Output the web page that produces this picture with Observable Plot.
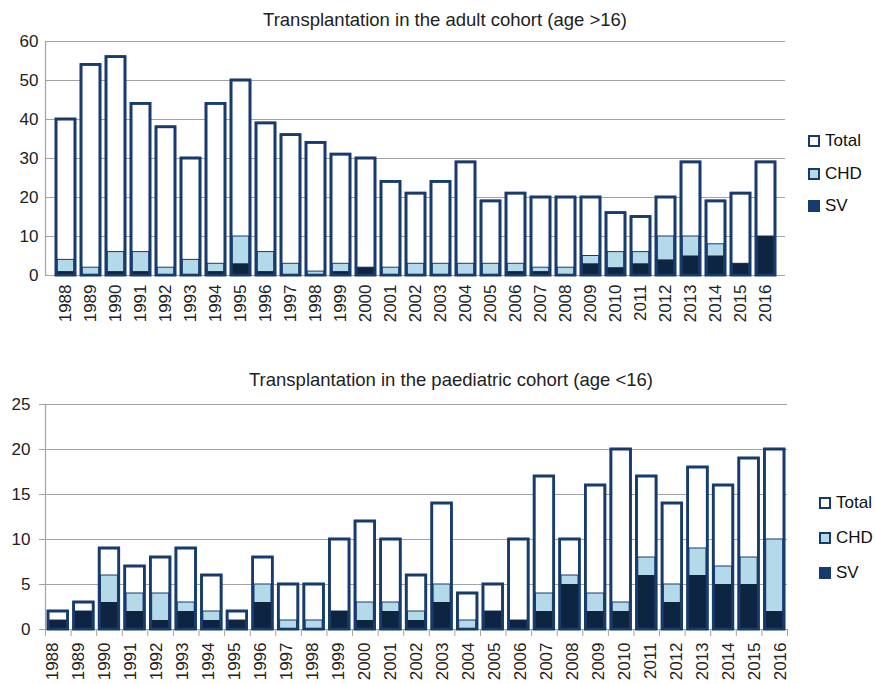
<!DOCTYPE html>
<html>
<head>
<meta charset="utf-8">
<script src="https://cdn.jsdelivr.net/npm/d3@7"></script>
<script src="https://cdn.jsdelivr.net/npm/@observablehq/plot@0.6"></script>
<style>
  body { margin: 0; background: #fff; font-family: "Liberation Sans", Arial, Helvetica, sans-serif; }
  #wrap { position: relative; width: 875px; height: 684px; overflow: hidden; background: #fff; }
  .title { position: absolute; font-size: 18.5px; color: #222; white-space: nowrap; transform: translateX(-50%); }
  .chart { position: absolute; left: 0; }
  .chart svg { overflow: visible; }
  .legend { position: absolute; font-size: 17px; color: #111; }
  .legend .row { position: absolute; left: 0; display: flex; align-items: center; white-space: nowrap; height: 20px; }
  .legend .sw { box-sizing: border-box; width: 12px; height: 12px; border: 2.5px solid #173b6e; margin-right: 5px; }
</style>
</head>
<body>
<div id="wrap">
  <div class="title" id="t1" style="left:445px; top:9px;"></div>
  <div class="chart" id="c1" style="top:30px;"></div>
  <div class="legend" id="l1" style="left:808px; top:0px;"></div>
  <div class="title" id="t2" style="left:451px; top:369px;"></div>
  <div class="chart" id="c2" style="top:392px;"></div>
  <div class="chart" id="c2axis" style="top:392px; pointer-events:none;"></div>
  <div class="legend" id="l2" style="left:819px; top:0px;"></div>
</div>
<script>
// ---------- data ----------
const years = [1988, 1989, 1990, 1991, 1992, 1993, 1994, 1995, 1996, 1997, 1998, 1999, 2000, 2001, 2002,
               2003, 2004, 2005, 2006, 2007, 2008, 2009, 2010, 2011, 2012, 2013, 2014, 2015, 2016];

const adultTitle = "Transplantation in the adult cohort (age >16)";
const adultTotal = [40, 54, 56, 44, 38, 30, 44, 50, 39, 36, 34, 31, 30, 24, 21, 24, 29, 19, 21, 20, 20, 20, 16, 15, 20, 29, 19, 21, 29];
const adultCHD   = [ 4,  2,  6,  6,  2,  4,  3, 10,  6,  3,  1,  3,  2,  2,  3,  3,  3,  3,  3,  2,  2,  5,  6,  6, 10, 10,  8,  3, 10];
const adultSV    = [ 1,  0,  1,  1,  0,  0,  1,  3,  1,  0,  0,  1,  2,  0,  0,  0,  0,  0,  1,  1,  0,  3,  2,  3,  4,  5,  5,  3, 10];
const adultYTicks = [0, 10, 20, 30, 40, 50, 60];

const paedTitle = "Transplantation in the paediatric cohort (age <16)";
const paedTotal = [2, 3, 9, 7, 8, 9, 6, 2, 8, 5, 5, 10, 12, 10, 6, 14, 4, 5, 10, 17, 10, 16, 20, 17, 14, 18, 16, 19, 20];
const paedCHD   = [1, 2, 6, 4, 4, 3, 2, 1, 5, 1, 1,  2,  3,  3, 2,  5, 1, 2,  1,  4,  6,  4,  3,  8,  5,  9,  7,  8, 10];
const paedSV    = [1, 2, 3, 2, 1, 2, 1, 1, 3, 0, 0,  2,  1,  2, 1,  3, 0, 2,  1,  2,  5,  2,  2,  6,  3,  6,  5,  5,  2];
const paedYTicks = [0, 5, 10, 15, 20, 25];

const seriesNames = ["Total", "CHD", "SV"];

// ---------- style ----------
const NAVY = "#173b6e";
const DARK = "#0e2542";
const LIGHT = "#b4d9e8";
const GRID = "#a3a3a3";
const FONT = "Liberation Sans, Arial, Helvetica, sans-serif";
const yearFmt = d => String(d);

const adult = years.map((year, i) => ({year, total: adultTotal[i], chd: adultCHD[i], sv: adultSV[i]}));
const paed  = years.map((year, i) => ({year, total: paedTotal[i], chd: paedCHD[i], sv: paedSV[i]}));

document.getElementById("t1").textContent = adultTitle;
document.getElementById("t2").textContent = paedTitle;

// ---------- top chart (band scale, labels centred) ----------
const adultPlot = Plot.plot({
  width: 875, height: 300,
  marginTop: 11, marginBottom: 55, marginLeft: 45, marginRight: 90,
  style: {fontFamily: FONT, fontSize: "17px", color: "#222", background: "transparent"},
  x: {type: "band", domain: years, padding: 0},
  y: {domain: [0, 60]},
  marks: [
    Plot.gridY(adultYTicks, {stroke: GRID, strokeOpacity: 1, strokeWidth: 1.2}),
    Plot.frame({anchor: "left", stroke: GRID, strokeWidth: 1.2}),
    Plot.barY(adult, {x: "year", y: "total", fill: "white", stroke: NAVY, strokeWidth: 2.6, insetLeft: 3, insetRight: 3}),
    Plot.barY(adult.filter(d => d.chd > 0), {x: "year", y: "chd", fill: LIGHT, stroke: NAVY, strokeWidth: 1, insetLeft: 4.3, insetRight: 4.3}),
    Plot.barY(adult.filter(d => d.sv > 0), {x: "year", y: "sv", fill: DARK, insetLeft: 4.3, insetRight: 4.3}),
    Plot.barY(adult, {x: "year", y: "total", fill: "none", stroke: NAVY, strokeWidth: 2.6, insetLeft: 3, insetRight: 3}),
    Plot.axisY({ticks: adultYTicks, tickSize: 0, tickPadding: 7, label: null, fontSize: 17}),
    Plot.axisX({tickSize: 0, tickPadding: 9, tickRotate: -90, tickFormat: yearFmt, label: null, fontSize: 17})
  ]
});
document.getElementById("c1").appendChild(adultPlot);

// ---------- bottom chart (linear year axis, ticks at bar edges) ----------
const edgeTicks = years.concat([years[years.length - 1] + 1]);
const paedPlot = Plot.plot({
  width: 875, height: 292,
  marginTop: 12, marginBottom: 55, marginLeft: 45, marginRight: 88,
  style: {fontFamily: FONT, fontSize: "17px", color: "#222", background: "transparent"},
  x: {domain: [years[0], years[years.length - 1] + 1]},
  y: {domain: [0, 25]},
  marks: [
    Plot.gridY(paedYTicks, {stroke: GRID, strokeOpacity: 1, strokeWidth: 1.2}),
    Plot.ruleX([years[0]], {stroke: GRID, strokeWidth: 1.2}),
    Plot.rectY(paed, {x: "year", interval: 1, y: "total", fill: "white", stroke: NAVY, strokeWidth: 2.6, insetLeft: 3, insetRight: 3}),
    Plot.rectY(paed.filter(d => d.chd > 0), {x: "year", interval: 1, y: "chd", fill: LIGHT, stroke: NAVY, strokeWidth: 1, insetLeft: 4.3, insetRight: 4.3}),
    Plot.rectY(paed.filter(d => d.sv > 0), {x: "year", interval: 1, y: "sv", fill: DARK, insetLeft: 4.3, insetRight: 4.3}),
    Plot.rectY(paed, {x: "year", interval: 1, y: "total", fill: "none", stroke: NAVY, strokeWidth: 2.6, insetLeft: 3, insetRight: 3}),
    Plot.axisY({ticks: paedYTicks, tickSize: 6, tickPadding: 9, stroke: GRID, label: null, fontSize: 17}),
    Plot.axisX({ticks: edgeTicks, tickSize: 7, tickFormat: () => "", stroke: GRID, label: null})
  ]
});
document.getElementById("c2").appendChild(paedPlot);

// year labels of the bottom chart, spread from first to last edge
const paedAxis = Plot.plot({
  width: 875, height: 292,
  marginTop: 12, marginBottom: 55, marginLeft: 45, marginRight: 88,
  style: {fontFamily: FONT, fontSize: "17px", color: "#222", background: "transparent"},
  x: {type: "point", domain: years, padding: 0},
  marks: [
    Plot.axisX({tickSize: 0, tickPadding: 13, tickRotate: -90, tickFormat: yearFmt, label: null, fontSize: 17})
  ]
});
document.getElementById("c2axis").appendChild(paedAxis);

// ---------- legends ----------
function legend(el, rowsTop, gap) {
  const fills = ["white", LIGHT, NAVY];
  seriesNames.forEach((name, i) => {
    const row = document.createElement("div");
    row.className = "row";
    row.style.top = (rowsTop + i * gap - 10) + "px";
    const sw = document.createElement("div");
    sw.className = "sw";
    sw.style.background = fills[i];
    row.appendChild(sw);
    row.appendChild(document.createTextNode(name));
    el.appendChild(row);
  });
}
legend(document.getElementById("l1"), 141, 32.5);
legend(document.getElementById("l2"), 503, 35);
</script>
</body>
</html>
